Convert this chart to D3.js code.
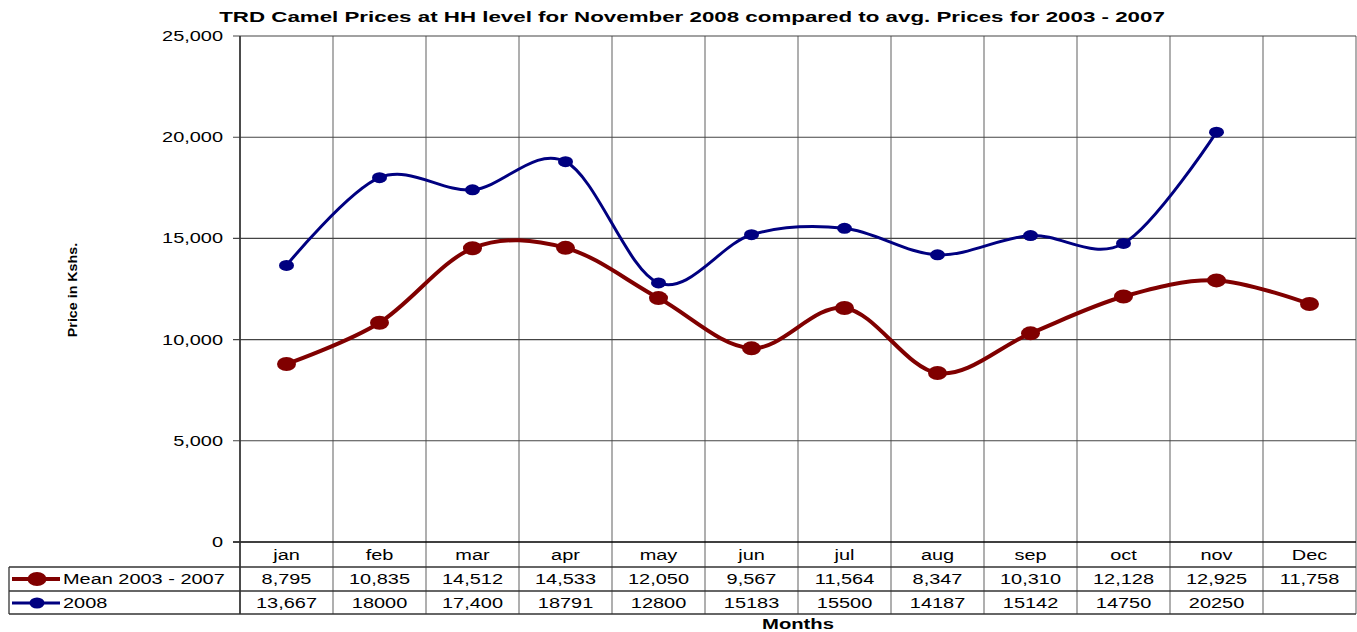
<!DOCTYPE html>
<html>
<head>
<meta charset="utf-8">
<script src="https://cdn.jsdelivr.net/npm/d3@7"></script>
<style>
  body { margin: 0; background: #fff; }
  text { font-family: "Liberation Sans", Arial, sans-serif; fill: #000; }
</style>
</head>
<body>
<div id="chart"></div>
<script>
  // ---- data ----
  var months = ["jan", "feb", "mar", "apr", "may", "jun", "jul", "aug", "sep", "oct", "nov", "Dec"];
  var meanValues = [8795, 10835, 14512, 14533, 12050, 9567, 11564, 8347, 10310, 12128, 12925, 11758];
  var values2008 = [13667, 18000, 17400, 18791, 12800, 15183, 15500, 14187, 15142, 14750, 20250, null];
  // the 2008 row of the data table is not formatted consistently
  var labels2008 = ["13,667", "18000", "17,400", "18791", "12800", "15183", "15500", "14187", "15142", "14750", "20250", ""];
  var yTicks = [0, 5000, 10000, 15000, 20000, 25000];

(function () {
  var width = 1357, height = 632,
      plotLeft = 240, plotRight = 1356, plotTop = 36, plotBottom = 542,
      rowH = [25, 24, 23],
      sx = 1.33;   // the original text is drawn stretched sideways

  var svg = d3.select("#chart").append("svg")
      .attr("width", width)
      .attr("height", height);

  var x = d3.scaleBand().domain(months).range([plotLeft, plotRight]);
  var y = d3.scaleLinear().domain([0, 25000]).range([plotBottom, plotTop]);

  var row1 = plotBottom + rowH[0], row2 = row1 + rowH[1], tableBottom = row2 + rowH[2];

  // stretched text helper
  function label(g, str, px, py, anchor, opts) {
    opts = opts || {};
    return g.append("text")
        .attr("text-anchor", anchor)
        .attr("transform", "translate(" + px + "," + py + ")scale(" + (opts.sx || sx) + ",1)")
        .style("font-size", (opts.size || 15) + "px")
        .style("font-weight", opts.bold ? "bold" : "normal")
        .text(str);
  }

  /*---------------- grid ----------------*/
  svg.append("g")
    .selectAll("line")
    .data(months.concat(["end"]))
    .join("line")
      .attr("x1", function(d) { return d === "end" ? plotRight : x(d); })
      .attr("x2", function(d) { return d === "end" ? plotRight : x(d); })
      .attr("y1", plotTop)
      .attr("y2", tableBottom)
      .attr("stroke", "#7a7a7a")
      .attr("stroke-width", 1.2);

  svg.append("g")
    .selectAll("line")
    .data(yTicks)
    .join("line")
      .attr("x1", plotLeft - 7)
      .attr("x2", plotRight)
      .attr("y1", function(d) { return y(d); })
      .attr("y2", function(d) { return y(d); })
      .attr("stroke", function(d) { return d === 0 ? "#000" : "#444"; })
      .attr("stroke-width", function(d) { return d === 0 ? 1.6 : 1.1; });

  // y axis
  svg.append("line")
      .attr("x1", plotLeft).attr("x2", plotLeft)
      .attr("y1", plotTop).attr("y2", tableBottom)
      .attr("stroke", "#333").attr("stroke-width", 1.6);

  var fmt = d3.format(",");
  var yLab = svg.append("g");
  yTicks.forEach(function(d) {
    label(yLab, fmt(d), 223, y(d) + 5, "end");
  });

  /*---------------- data table ----------------*/
  var table = svg.append("g");
  [row1, row2, tableBottom].forEach(function(ry) {
    table.append("line")
        .attr("x1", 9).attr("x2", plotRight)
        .attr("y1", ry).attr("y2", ry)
        .attr("stroke", "#333").attr("stroke-width", 1.3);
  });
  table.append("line")
      .attr("x1", 9).attr("x2", 9)
      .attr("y1", row1).attr("y2", tableBottom)
      .attr("stroke", "#333").attr("stroke-width", 1.3);

  months.forEach(function(m, i) {
    var cx = x(m) + x.bandwidth() / 2;
    label(table, m, cx, plotBottom + 18, "middle");
    label(table, fmt(meanValues[i]), cx, row1 + 17, "middle");
    label(table, labels2008[i], cx, row2 + 17, "middle");
  });

  /*---------------- series ----------------*/
  var series = [
    {name: "Mean 2003 - 2007", values: meanValues, color: "#800000", width: 4, rx: 9.5, ry: 7, row: row1},
    {name: "2008", values: values2008, color: "#000080", width: 3, rx: 7.5, ry: 5.5, row: row2}
  ];

  var line = d3.line()
      .x(function(d) { return x(d.m) + x.bandwidth() / 2; })
      .y(function(d) { return y(d.v); })
      .curve(d3.curveCardinal.tension(0));

  series.forEach(function(s) {
    var pts = months.map(function(m, i) { return {m: m, v: s.values[i]}; })
                    .filter(function(d) { return d.v != null; });
    var g = svg.append("g");
    g.append("path")
        .attr("d", line(pts))
        .attr("fill", "none")
        .attr("stroke", s.color)
        .attr("stroke-width", s.width);
    g.selectAll("ellipse")
      .data(pts)
      .join("ellipse")
        .attr("cx", function(d) { return x(d.m) + x.bandwidth() / 2; })
        .attr("cy", function(d) { return y(d.v); })
        .attr("rx", s.rx)
        .attr("ry", s.ry)
        .attr("fill", s.color);

    // legend key inside the table
    var ky = s.row + rowH[1] / 2;
    table.append("line")
        .attr("x1", 12).attr("x2", 60)
        .attr("y1", ky).attr("y2", ky)
        .attr("stroke", s.color).attr("stroke-width", s.width);
    table.append("ellipse")
        .attr("cx", 37).attr("cy", ky)
        .attr("rx", s.rx).attr("ry", s.ry)
        .attr("fill", s.color);
    label(table, s.name, 63, s.row + 17, "start");
  });

  /*---------------- titles ----------------*/
  label(svg, "TRD Camel Prices at HH level for November 2008 compared to avg. Prices for 2003 - 2007",
        692, 22, "middle", {bold: true, size: 15, sx: 1.49});
  label(svg, "Months", (plotLeft + plotRight) / 2, 629, "middle", {bold: true, size: 15, sx: 1.35});

  svg.append("text")
      .attr("text-anchor", "middle")
      .attr("transform", "translate(77,290)rotate(-90)scale(1.19,1)")
      .style("font-size", "12px")
      .style("font-weight", "bold")
      .text("Price in Kshs.");
})();
</script>
</body>
</html>
